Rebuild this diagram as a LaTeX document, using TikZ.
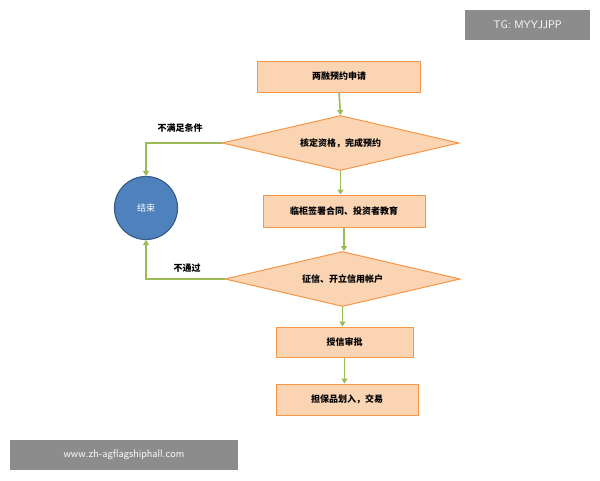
\documentclass[tikz,border=0pt]{standalone}
\usepackage{fontspec}
\newfontfamily\cjk{Noto Sans CJK SC}
\usetikzlibrary{shapes.geometric,arrows.meta}
\definecolor{fillo}{HTML}{FBD4B4}
\definecolor{edgeo}{HTML}{F79646}
\definecolor{gr}{HTML}{9BBB59}
\definecolor{circ}{HTML}{4F81BD}
\definecolor{circe}{HTML}{385D8A}
\tikzset{
 stepbox/.style={draw=edgeo,fill=fillo,line width=1pt,font=\cjk\bfseries\fontsize{9}{10}\selectfont},
 dia/.style={stepbox,diamond,aspect=4.3,inner sep=0pt},
 conn/.style={draw=gr,line width=1.6pt,-{Triangle[length=5pt,width=6pt]}},
 lbl/.style={font=\cjk\bfseries\fontsize{9}{10}\selectfont},
 wm/.style={fill=black!45,text=white,font=\fontsize{11}{12}\selectfont\sffamily,inner sep=0pt}
}
\begin{document}
\begin{tikzpicture}[x=1pt,y=-1pt]
\useasboundingbox (0,0) rectangle (600,480);
\fill[white] (0,0) rectangle (600,480);
\node[stepbox,minimum width=163pt,minimum height=31pt] (a) at (339,76.5) {两融预约申请};
\node[dia,minimum width=237pt,minimum height=55pt] (d1) at (340.5,143) {核定资格，完成预约};
\node[stepbox,minimum width=162pt,minimum height=32pt] (b) at (344,211) {临柜签署合同、投资者教育};
\node[dia,minimum width=235pt,minimum height=55pt] (d2) at (342.5,279) {征信、开立信用帐户};
\node[stepbox,minimum width=137pt,minimum height=30pt] (c) at (344.5,342) {授信审批};
\node[stepbox,minimum width=142pt,minimum height=31pt] (e) at (347,399.5) {担保品划入，交易};
\node[circle,draw=circe,fill=circ,line width=1.2pt,minimum size=63pt,text=white,font=\cjk\fontsize{9}{10}\selectfont] (end) at (146,208) {结束};
\draw[conn] (a.south) -- (d1.north);
\draw[conn] (d1.south) -- (d1.south |- b.north);
\draw[conn] (b.south) -- (b.south |- d2.north);
\draw[conn] (d2.south) -- (d2.south |- c.north);
\draw[conn] (c.south) -- (c.south |- e.north);
\draw[conn] (d1.west) -| (end.north);
\draw[conn] (d2.west) -| (end.south);
\node[lbl] (l1) at (180,128) {不满足条件};
\node[lbl] (l2) at (187,268) {不通过};
\node[wm,minimum width=125pt,minimum height=30pt] (w1) at (527.5,25) {TG: MYYJJPP};
\node[wm,minimum width=228pt,minimum height=30pt] (w2) at (124,455) {www.zh-agflagshiphall.com};
\end{tikzpicture}
\end{document}
